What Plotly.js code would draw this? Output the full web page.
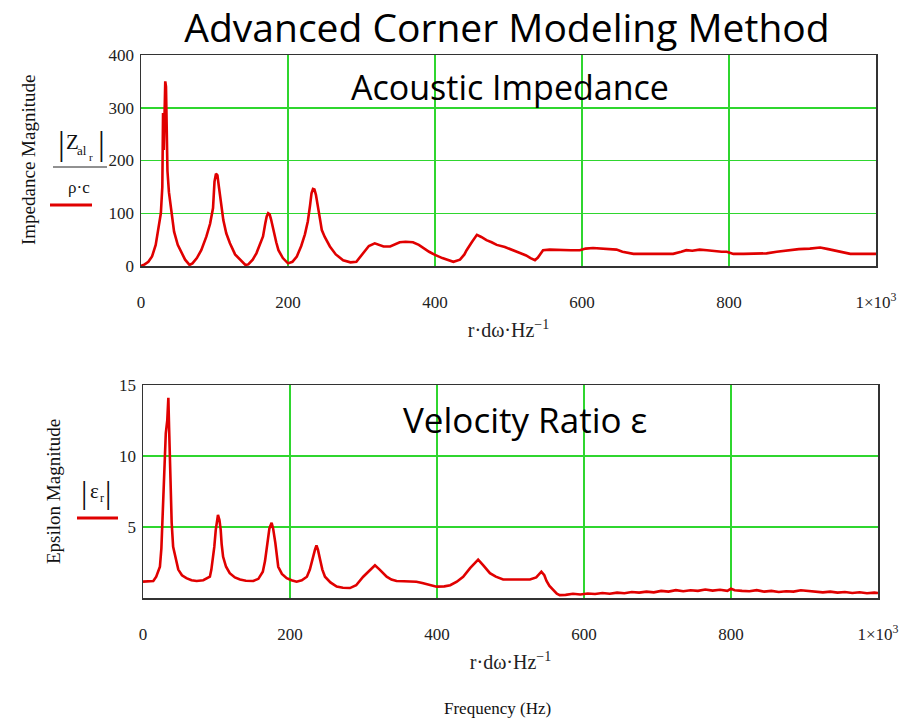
<!DOCTYPE html>
<html>
<head>
<meta charset="utf-8">
<script src="https://cdn.plot.ly/plotly-3.0.1.min.js"></script>
<style>html,body{margin:0;padding:0;background:#fff;}#chart{width:923px;height:721px;}</style>
</head>
<body>
<div id="chart"></div>
<script>
// ---- data ----
const impFreq = [0,5,10,15,20,24,27,29,30,31,32,33,34,35,36,38,40,42,45,50,55,60,66,70,76,82,89,94,98,100,102,104,106,108,112,116,121,128,135,142,146,152,157,162,166,169,171,173,175,177,180,184,187,193,200,206,212,218,223,227,230,232,234,236,238,241,244,246,250,257,265,275,285,293,302,310,318,324,330,339,346,352,360,370,378,384,392,400,410,425,434,440,443,450,457,463,470,477,484,495,506,516,524,530,536,540,547,556,570,585,597,605,615,625,635,647,655,670,690,705,724,735,742,750,760,770,780,790,797,806,820,835,851,865,880,895,910,924,935,942,955,965,980,1000];
const impMag = [0,3,8,18,40,70,100,150,290,220,300,350,340,220,180,140,118,90,65,40,25,12,2,5,15,30,56,80,110,160,175,172,150,125,87,62,43,22,11,2,3,12,24,40,56,80,94,100,98,88,68,45,30,15,5,8,18,38,60,85,115,138,146,145,135,106,85,68,55,37,22,11,7,8,24,38,43,40,37,37,42,45,46,45,40,34,27,21,15,8,12,22,30,45,59,55,49,45,40,36,30,25,20,15,11,16,30,31,30,30,30,33,34,33,32,31,27,23,23,23,23,27,30,29,31,30,28,27,27,23,23,24,24,27,30,32,33,35,32,30,25,23,23,23];

const epsFreq = [0,7,14,18,21,23,25,27,29,31,33,34.5,35.5,36.7,38,39,41,44,48,53,59,66,73,82,88,91,93,95,97,99,101,102,104,105.7,107,109,113,118,125,132,140,150,157,163,166,168,170,172,175,177,180,182,184,189,195.5,202,209,216,223,227,231,234,236,238,241,244,247.6,255,263.5,272,281.6,290,299.6,307,315.6,322,331.5,338,345,355,365,372,380,390,399.5,410,418,427,435.6,445,456,463,472,480,490,505,526.5,535,542,546,549,553,558,563,567,575,585,595,605,615,625,635,645,655,665,675,685,695,705,715,725,735,745,755,765,775,785,795,800,805,815,825,835,845,855,865,875,885,895,905,915,925,935,945,955,965,975,985,995,1000];
const epsMag = [1.15,1.2,1.2,1.5,1.9,2.2,3.5,6.4,8.5,11.6,12.5,14.1,12,8.8,7,5.3,3.6,2.8,2.0,1.6,1.4,1.25,1.2,1.25,1.4,1.5,2.0,2.7,3.6,4.8,5.7,5.85,5.5,4.8,3.8,2.9,2.2,1.75,1.45,1.3,1.22,1.2,1.35,1.85,2.6,3.3,4.1,4.9,5.3,4.9,3.9,3.0,2.2,1.7,1.4,1.25,1.15,1.25,1.5,2.0,2.9,3.4,3.7,3.4,2.7,2.0,1.5,1.1,0.8,0.72,0.7,0.9,1.5,1.9,2.3,2.0,1.5,1.3,1.2,1.18,1.15,1.15,1.05,0.92,0.8,0.82,0.9,1.15,1.5,2.1,2.7,2.3,1.75,1.5,1.3,1.3,1.3,1.45,1.85,1.6,1.2,0.85,0.55,0.3,0.2,0.22,0.3,0.25,0.32,0.28,0.35,0.3,0.38,0.33,0.42,0.38,0.45,0.4,0.5,0.45,0.55,0.48,0.55,0.5,0.6,0.52,0.58,0.5,0.65,0.55,0.5,0.48,0.55,0.45,0.5,0.42,0.48,0.45,0.55,0.5,0.45,0.4,0.45,0.38,0.42,0.35,0.4,0.33,0.38,0.35];

const xTickVals = [0,200,400,600,800,1000];
const xTickText = ['0','200','400','600','800','1×10<sup>3</sup>'];
const impTickVals = [0,100,200,300,400];
const epsTickVals = [5,10,15];

// ---- layout helpers (pixel -> paper) ----
const W = 923, H = 721;
const px = v => v / W;
const py = v => 1 - v / H;

const serif = 'Liberation Serif, Times New Roman, serif';
const sans = 'Open Sans, Carlito, Lato, sans-serif';
const gridCol = '#2fd62f';
const lineCol = '#333333';
const red = '#e00000';

function xAx(domain, anchor) {
  return {
    domain: domain, anchor: anchor, range: [0, 1000],
    tickvals: xTickVals, ticktext: xTickText,
    showgrid: true, gridcolor: gridCol, gridwidth: 1.5,
    showline: true, mirror: true, linecolor: lineCol, linewidth: 1.5,
    zeroline: false, ticks: '', ticklabelstandoff: 20,
    tickfont: {family: serif, size: 17, color: '#222'},
    title: {text: 'r·dω·Hz<sup>−1</sup>', font: {family: serif, size: 20, color: '#222'}, standoff: 12},
    fixedrange: true
  };
}
function yAx(domain, anchor, range, vals) {
  return {
    domain: domain, anchor: anchor, range: range, tickvals: vals,
    showgrid: true, gridcolor: gridCol, gridwidth: 1.5,
    showline: true, mirror: true, linecolor: lineCol, linewidth: 1.5,
    zeroline: false, ticks: '', ticklabelstandoff: 2,
    tickfont: {family: serif, size: 17, color: '#222'},
    fixedrange: true
  };
}

const traces = [
  {x: impFreq, y: impMag, xaxis: 'x', yaxis: 'y', type: 'scatter', mode: 'lines',
   line: {color: red, width: 2.6}, hoverinfo: 'skip', name: 'Impedance'},
  {x: epsFreq, y: epsMag, xaxis: 'x2', yaxis: 'y2', type: 'scatter', mode: 'lines',
   line: {color: red, width: 2.6}, hoverinfo: 'skip', name: 'Epsilon'}
];

const ann = (x, y, text, size, family, extra) => Object.assign({
  xref: 'paper', yref: 'paper', x: px(x), y: py(y), text: text, showarrow: false,
  xanchor: 'center', yanchor: 'middle', font: {family: family, size: size, color: '#111'}
}, extra || {});

const layout = {
  width: W, height: H,
  margin: {l: 0, r: 0, t: 0, b: 0},
  paper_bgcolor: '#fff', plot_bgcolor: '#fff',
  showlegend: false,
  title: {text: 'Advanced Corner Modeling Method', x: px(507), y: py(28), xanchor: 'center', yanchor: 'middle',
          font: {family: sans, size: 39, color: '#000'}},
  xaxis: xAx([px(141), px(876)], 'y'),
  yaxis: yAx([py(266), py(55)], 'x', [0, 400], impTickVals),
  xaxis2: xAx([px(143), px(878)], 'y2'),
  yaxis2: yAx([py(598), py(385)], 'x2', [0, 15], epsTickVals),
  annotations: [
    ann(510, 87, 'Acoustic Impedance', 34, sans, {font: {family: sans, size: 34, color: '#000'}}),
    ann(525, 419, 'Velocity Ratio ε', 35, sans, {font: {family: sans, size: 35, color: '#000'}}),
    ann(28, 160, 'Impedance Magnitude', 19, serif, {textangle: -90}),
    ann(53, 492, 'Epsilon Magnitude', 19, serif, {textangle: -90}),
    // |Z_al_r| / (rho·c)
    ann(62, 143, '|', 34, serif),
    ann(72, 142, 'Z', 21, serif),
    ann(82, 150, 'al', 13, serif),
    ann(91, 157, 'r', 11, serif),
    ann(101, 143, '|', 34, serif),
    ann(79, 187, 'ρ·c', 17, serif),
    // |eps_r|
    ann(84, 492, '|', 32, serif),
    ann(94, 491, 'ε', 21, serif),
    ann(102, 498, 'r', 12, serif),
    ann(108, 492, '|', 32, serif),
    ann(497, 708, 'Frequency (Hz)', 17, serif)
  ],
  shapes: [
    {type: 'line', xref: 'paper', yref: 'paper', x0: px(53), x1: px(107), y0: py(167), y1: py(167), line: {color: '#222', width: 1}},
    {type: 'line', xref: 'paper', yref: 'paper', x0: px(50), x1: px(92), y0: py(205), y1: py(205), line: {color: red, width: 3}},
    {type: 'line', xref: 'paper', yref: 'paper', x0: px(77), x1: px(118), y0: py(518), y1: py(518), line: {color: red, width: 3}}
  ]
};

Plotly.newPlot('chart', traces, layout, {displayModeBar: false, staticPlot: true});
</script>
</body>
</html>
